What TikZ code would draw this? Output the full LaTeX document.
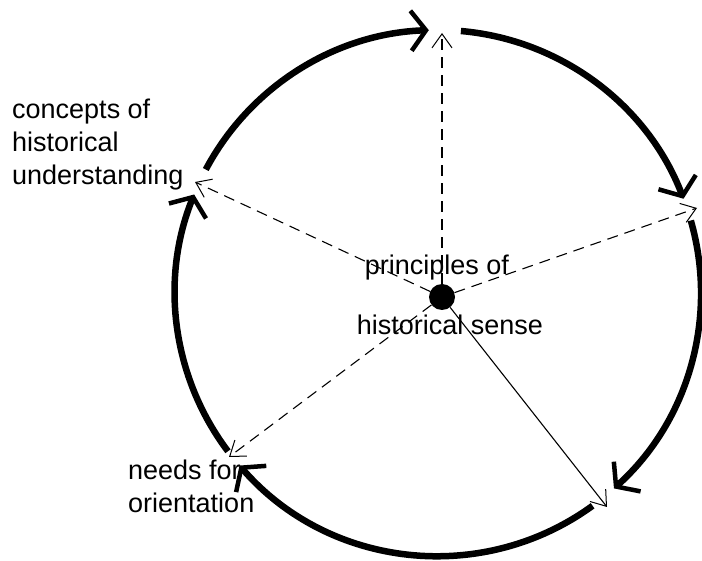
\documentclass[tikz,border=0pt]{standalone}
\usepackage{fontspec}
\setmainfont{Liberation Sans}
\usetikzlibrary{arrows.meta, positioning}

\begin{document}
\begin{tikzpicture}[
  x=1pt, y=1pt,
  txt/.style={font=\fontsize{27}{33}\selectfont, align=left, inner sep=0pt},
  hub/.style={circle, fill=black, minimum size=26pt, inner sep=0pt},
  spoke/.style={draw=black, line width=1.1pt, -{Straight Barb[length=14pt, width=20pt, line width=1pt]}},
  dashy/.style={dash pattern=on 11pt off 7pt},
  ring/.style={draw=black, line width=6.5pt, -{Straight Barb[length=15pt, width=40pt, line width=4.5pt]}}
]
  \useasboundingbox (0,0) rectangle (702,560);

  % Centre of the cycle
  \coordinate (ctr) at (438,267);
  \node[hub] (hub) at (442,263) {};

  % Points on the circle
  \coordinate (top) at (442,527);
  \coordinate (east) at (697,352);
  \coordinate (southeast) at (607,53);
  \coordinate (southwest) at (229,103);
  \coordinate (northwest) at (195,378);

  % Labels
  \node[txt] (principles) at (437,292) {principles of};
  \node[txt] (sense) at (450,235) {historical sense};
  \node[txt, anchor=west] (concepts) at (12,415) {concepts of\\historical\\understanding};
  \node[txt, anchor=west] (needs) at (128,74) {needs for\\orientation};

  % Spokes
  \path[spoke, dashy] (hub) -- (top);
  \path[spoke, dashy] (hub) -- (east);
  \path[spoke] (hub) -- (southeast);
  \path[spoke, dashy] (hub) -- (southwest);
  \path[spoke, dashy] (hub) -- (northwest);

  % Cycle arcs
  \path[ring] ([shift={(152:263pt)}]ctr) arc[start angle=152, end angle=92, radius=263pt];
  \path[ring] ([shift={(85:263pt)}]ctr) arc[start angle=85, end angle=21, radius=263pt];
  \path[ring] ([shift={(16:263pt)}]ctr) arc[start angle=16, end angle=-48, radius=263pt];
  \path[ring] ([shift={(-54:263pt)}]ctr) arc[start angle=-54, end angle=-139, radius=263pt];
  \path[ring] ([shift={(-143:263pt)}]ctr) arc[start angle=-143, end angle=-202, radius=263pt];

\end{tikzpicture}
\end{document}
